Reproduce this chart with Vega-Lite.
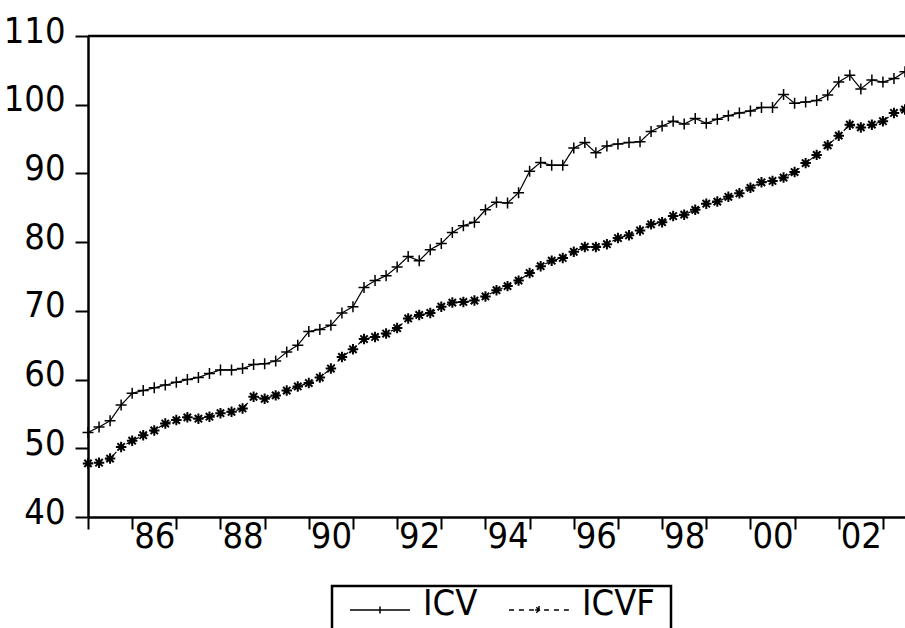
{
  "$schema": "https://vega.github.io/schema/vega-lite/v6.json",
  "width": 817,
  "height": 481,
  "autosize": "none",
  "padding": {"left": 88, "top": 36, "right": 0, "bottom": 111},
  "background": "white",
  "config": {
    "view": {"stroke": null},
    "font": "DejaVu Sans Condensed, Liberation Sans",
    "axis": {"domainColor": "black", "tickColor": "black", "labelColor": "black", "grid": false, "labelOverlap": false}
  },
  "layer": [
    {
      "data": {"values": [
        {"t": 1985.0, "ICV": 52.3, "ICVF": 47.8},
        {"t": 1985.25, "ICV": 53.1, "ICVF": 47.9},
        {"t": 1985.5, "ICV": 54.0, "ICVF": 48.5},
        {"t": 1985.75, "ICV": 56.3, "ICVF": 50.2},
        {"t": 1986.0, "ICV": 58.0, "ICVF": 51.1},
        {"t": 1986.25, "ICV": 58.4, "ICVF": 51.9},
        {"t": 1986.5, "ICV": 58.8, "ICVF": 52.6},
        {"t": 1986.75, "ICV": 59.2, "ICVF": 53.6},
        {"t": 1987.0, "ICV": 59.6, "ICVF": 54.1},
        {"t": 1987.25, "ICV": 60.0, "ICVF": 54.5},
        {"t": 1987.5, "ICV": 60.3, "ICVF": 54.3},
        {"t": 1987.75, "ICV": 60.9, "ICVF": 54.6},
        {"t": 1988.0, "ICV": 61.4, "ICVF": 55.1},
        {"t": 1988.25, "ICV": 61.4, "ICVF": 55.3},
        {"t": 1988.5, "ICV": 61.6, "ICVF": 55.8},
        {"t": 1988.75, "ICV": 62.2, "ICVF": 57.5},
        {"t": 1989.0, "ICV": 62.3, "ICVF": 57.2},
        {"t": 1989.25, "ICV": 62.7, "ICVF": 57.7},
        {"t": 1989.5, "ICV": 64.0, "ICVF": 58.4},
        {"t": 1989.75, "ICV": 65.0, "ICVF": 59.0},
        {"t": 1990.0, "ICV": 67.0, "ICVF": 59.5},
        {"t": 1990.25, "ICV": 67.3, "ICVF": 60.3},
        {"t": 1990.5, "ICV": 67.9, "ICVF": 61.6},
        {"t": 1990.75, "ICV": 69.7, "ICVF": 63.3},
        {"t": 1991.0, "ICV": 70.6, "ICVF": 64.4},
        {"t": 1991.25, "ICV": 73.4, "ICVF": 65.9},
        {"t": 1991.5, "ICV": 74.4, "ICVF": 66.2},
        {"t": 1991.75, "ICV": 75.1, "ICVF": 66.7},
        {"t": 1992.0, "ICV": 76.4, "ICVF": 67.5},
        {"t": 1992.25, "ICV": 77.9, "ICVF": 68.9},
        {"t": 1992.5, "ICV": 77.3, "ICVF": 69.4},
        {"t": 1992.75, "ICV": 78.9, "ICVF": 69.7},
        {"t": 1993.0, "ICV": 79.8, "ICVF": 70.6},
        {"t": 1993.25, "ICV": 81.4, "ICVF": 71.2},
        {"t": 1993.5, "ICV": 82.4, "ICVF": 71.3},
        {"t": 1993.75, "ICV": 82.9, "ICVF": 71.5},
        {"t": 1994.0, "ICV": 84.7, "ICVF": 72.1},
        {"t": 1994.25, "ICV": 85.8, "ICVF": 73.0},
        {"t": 1994.5, "ICV": 85.7, "ICVF": 73.6},
        {"t": 1994.75, "ICV": 87.2, "ICVF": 74.4},
        {"t": 1995.0, "ICV": 90.3, "ICVF": 75.5},
        {"t": 1995.25, "ICV": 91.6, "ICVF": 76.5},
        {"t": 1995.5, "ICV": 91.2, "ICVF": 77.3},
        {"t": 1995.75, "ICV": 91.2, "ICVF": 77.7},
        {"t": 1996.0, "ICV": 93.7, "ICVF": 78.6},
        {"t": 1996.25, "ICV": 94.5, "ICVF": 79.3},
        {"t": 1996.5, "ICV": 93.0, "ICVF": 79.3},
        {"t": 1996.75, "ICV": 94.0, "ICVF": 79.7},
        {"t": 1997.0, "ICV": 94.3, "ICVF": 80.6},
        {"t": 1997.25, "ICV": 94.5, "ICVF": 81.0},
        {"t": 1997.5, "ICV": 94.6, "ICVF": 81.7},
        {"t": 1997.75, "ICV": 96.1, "ICVF": 82.6},
        {"t": 1998.0, "ICV": 96.9, "ICVF": 82.9},
        {"t": 1998.25, "ICV": 97.6, "ICVF": 83.8},
        {"t": 1998.5, "ICV": 97.2, "ICVF": 84.0},
        {"t": 1998.75, "ICV": 98.0, "ICVF": 84.7},
        {"t": 1999.0, "ICV": 97.3, "ICVF": 85.6},
        {"t": 1999.25, "ICV": 97.9, "ICVF": 85.9},
        {"t": 1999.5, "ICV": 98.4, "ICVF": 86.6},
        {"t": 1999.75, "ICV": 98.8, "ICVF": 87.1},
        {"t": 2000.0, "ICV": 99.1, "ICVF": 87.9},
        {"t": 2000.25, "ICV": 99.6, "ICVF": 88.7},
        {"t": 2000.5, "ICV": 99.6, "ICVF": 88.9},
        {"t": 2000.75, "ICV": 101.5, "ICVF": 89.4},
        {"t": 2001.0, "ICV": 100.2, "ICVF": 90.2},
        {"t": 2001.25, "ICV": 100.4, "ICVF": 91.5},
        {"t": 2001.5, "ICV": 100.6, "ICVF": 92.7},
        {"t": 2001.75, "ICV": 101.4, "ICVF": 94.1},
        {"t": 2002.0, "ICV": 103.3, "ICVF": 95.5},
        {"t": 2002.25, "ICV": 104.3, "ICVF": 97.1},
        {"t": 2002.5, "ICV": 102.3, "ICVF": 96.7},
        {"t": 2002.75, "ICV": 103.6, "ICVF": 97.1},
        {"t": 2003.0, "ICV": 103.3, "ICVF": 97.6},
        {"t": 2003.25, "ICV": 103.8, "ICVF": 98.8},
        {"t": 2003.5, "ICV": 104.8, "ICVF": 99.3}
      ]},
      "transform": [{"fold": ["ICV", "ICVF"], "as": ["series", "v"]}],
      "encoding": {
        "x": {
          "field": "t", "type": "quantitative",
          "scale": {"domain": [1985, 2003.5], "nice": false, "zero": false},
          "axis": {
            "title": null,
            "values": [1985, 1986, 1986.5, 1987, 1988, 1988.5, 1989, 1990, 1990.5, 1991, 1992, 1992.5, 1993, 1994, 1994.5, 1995, 1996, 1996.5, 1997, 1998, 1998.5, 1999, 2000, 2000.5, 2001, 2002, 2002.5, 2003],
            "tickSize": 12, "tickWidth": 2,
            "tickOpacity": {"condition": {"test": "datum.value % 1 != 0", "value": 0}, "value": 1},
            "labelExpr": "datum.value % 1 == 0.5 ? substring(toString(floor(datum.value)), 2) : ''",
            "labelFontSize": 36,
            "labelPadding": -10, "labelOverlap": false, "labelFlush": false,
            "domainWidth": 2.5
          }
        },
        "y": {
          "field": "v", "type": "quantitative",
          "scale": {"domain": [40, 110], "nice": false, "zero": false},
          "axis": {
            "title": null,
            "values": [40, 50, 60, 70, 80, 90, 100, 110],
            "tickSize": 13, "tickWidth": 2,
            "labelFontSize": 36, "labelBaseline": "alphabetic",
            "labelPadding": 10, "labelOffset": 6, "labelOverlap": false,
            "domainWidth": 2.5
          }
        }
      },
      "layer": [
        {
          "mark": {"type": "line", "strokeWidth": 1.2},
          "encoding": {
            "color": {
              "field": "series", "type": "nominal",
              "scale": {"domain": ["ICV", "ICVF"], "range": ["black", "black"]},
              "legend": {
                "title": null, "orient": "none", "legendX": 244, "legendY": 550, "direction": "horizontal",
                "labelFontSize": 36, "labelColor": "black",
                "symbolSize": 3600, "symbolOffset": 1, "labelOffset": 12, "columnPadding": 29,
                "clipHeight": 40, "padding": 16, "strokeColor": "black", "fillColor": "white",
                "encode": {
                  "symbols": {"update": {
                    "shape": {"signal": "datum.value === 'ICV' ? 'M-1,-0.4H1M0,-0.52V-0.28' : 'M-1,-0.4H-0.83M-0.67,-0.4H-0.5M-0.33,-0.4H-0.17M0.17,-0.4H0.33M0.5,-0.4H0.67M0.83,-0.4H1M-0.13,-0.4H0.13M0,-0.53V-0.27M-0.09,-0.49L0.09,-0.31M-0.09,-0.31L0.09,-0.49'"},
                    "strokeDash": {"value": [1, 0]},
                    "stroke": {"value": "black"},
                    "strokeWidth": {"value": 1.5},
                    "fill": {"value": "transparent"}
                  }},
                  "labels": {"update": {"dy": {"value": -18}}},
                  "legend": {"update": {"strokeWidth": {"value": 2.5}}}
                }
              }
            },
            "strokeDash": {
              "field": "series", "type": "nominal",
              "scale": {"domain": ["ICV", "ICVF"], "range": [[1, 0], [5, 4]]},
              "legend": null
            }
          }
        },
        {
          "transform": [{"filter": "datum.series == 'ICV'"}],
          "mark": {"type": "point", "shape": "M-1,0H1M0,-1V1", "size": 121, "stroke": "black", "strokeWidth": 1.5, "filled": false, "opacity": 1}
        },
        {
          "transform": [{"filter": "datum.series == 'ICVF'"}],
          "mark": {"type": "point", "shape": "M-1,0H1M0,-1V1M-0.7,-0.7L0.7,0.7M-0.7,0.7L0.7,-0.7", "size": 110, "stroke": "black", "strokeWidth": 2, "filled": false, "opacity": 1}
        }
      ]
    },
    {
      "data": {"values": [{"top": 110}]},
      "mark": {"type": "rule", "strokeWidth": 2.5, "color": "black"},
      "encoding": {"y": {"field": "top", "type": "quantitative"}}
    }
  ]
}
